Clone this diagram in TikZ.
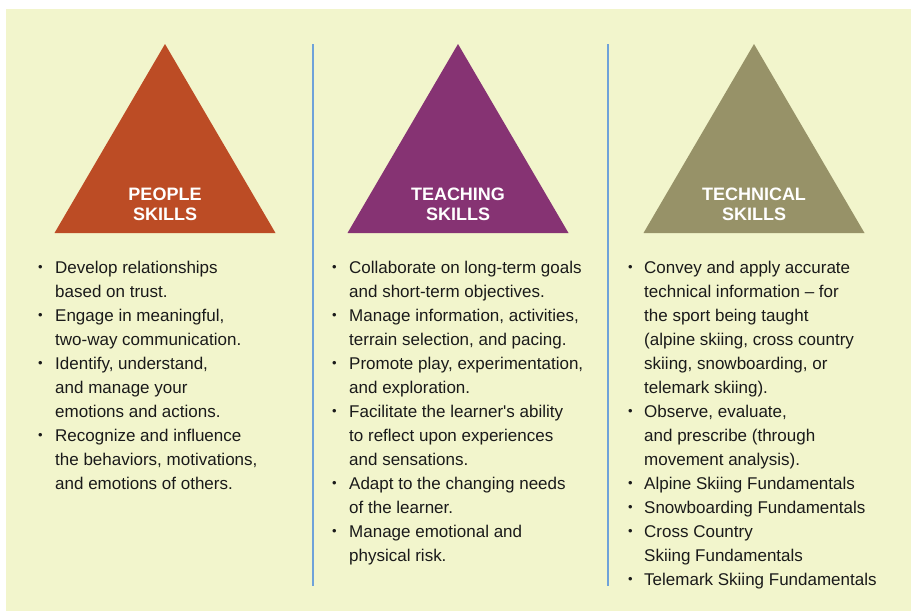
\documentclass[tikz,border=0pt]{standalone}
\usepackage{fontspec}
\setmainfont{Liberation Sans}
\definecolor{panel}{HTML}{F2F5CC}
\definecolor{peoplecol}{HTML}{BC4C25}
\definecolor{teachcol}{HTML}{863373}
\definecolor{techcol}{HTML}{979268}
\definecolor{rulecol}{HTML}{6FA2D9}
\definecolor{ink}{HTML}{1A1A1A}
\newcommand\blt{\raisebox{2pt}{\fontsize{13}{13}\selectfont\textbullet}}
\tikzset{
  skilltitle/.style={text=white, font=\fontsize{18}{20}\selectfont\bfseries, align=center, inner sep=0pt, anchor=base},
  skilllist/.style={text=ink, font=\fontsize{17}{24}\selectfont, inner sep=0pt, anchor=base west},
  divider/.style={rulecol, line width=2.5pt}
}
\begin{document}
\begin{tikzpicture}[x=1pt, y=-1pt, line join=round]
		\useasboundingbox (0,0) rectangle (911,611);
		\fill[panel](6,9)rectangle(911,611);
		\draw[divider](313,44)--(313,586);
		\draw[divider](608,44)--(608,586);
		\foreach \cx/\col/\lbl in {165/peoplecol/PEOPLE, 458/teachcol/TEACHING, 754/techcol/TECHNICAL}{
			\fill[\col](\cx,44)--(\cx+110.5,233)--(\cx-110.5,233)--cycle;
			\node[skilltitle] (title\cx) at (\cx,220) {\lbl\\SKILLS};
		}
		% people
		\node[skilllist] (people) at (38,273) {\begin{tabular}[t]{@{}p{17pt}@{}l@{}}
			\blt & Develop relationships\\
			& based on trust.\\
			\blt & Engage in meaningful,\\
			& two-way communication.\\
			\blt & Identify, understand,\\
			& and manage your\\
			& emotions and actions.\\
			\blt & Recognize and influence\\
			& the behaviors, motivations,\\
			& and emotions of others.
		\end{tabular}};
		% teaching
		\node[skilllist] (teaching) at (332,273) {\begin{tabular}[t]{@{}p{17pt}@{}l@{}}
			\blt & Collaborate on long-term goals\\
			& and short-term objectives.\\
			\blt & Manage information, activities,\\
			& terrain selection, and pacing.\\
			\blt & Promote play, experimentation,\\
			& and exploration.\\
			\blt & Facilitate the learner\textquotesingle s ability\\
			& to reflect upon experiences\\
			& and sensations.\\
			\blt & Adapt to the changing needs\\
			& of the learner.\\
			\blt & Manage emotional and\\
			& physical risk.
		\end{tabular}};
		% technical
		\node[skilllist] (technical) at (628,273) {\begin{tabular}[t]{@{}p{16pt}@{}l@{}}
			\blt & Convey and apply accurate\\
			& technical information -- for\\
			& the sport being taught\\
			& (alpine skiing, cross country\\
			& skiing, snowboarding, or\\
			& telemark skiing).\\
			\blt & Observe, evaluate,\\
			& and prescribe (through\\
			& movement analysis).\\
			\blt & Alpine Skiing Fundamentals\\
			\blt & Snowboarding Fundamentals\\
			\blt & Cross Country\\
			& Skiing Fundamentals\\
			\blt & Telemark Skiing Fundamentals
		\end{tabular}};
	\end{tikzpicture}
\end{document}
